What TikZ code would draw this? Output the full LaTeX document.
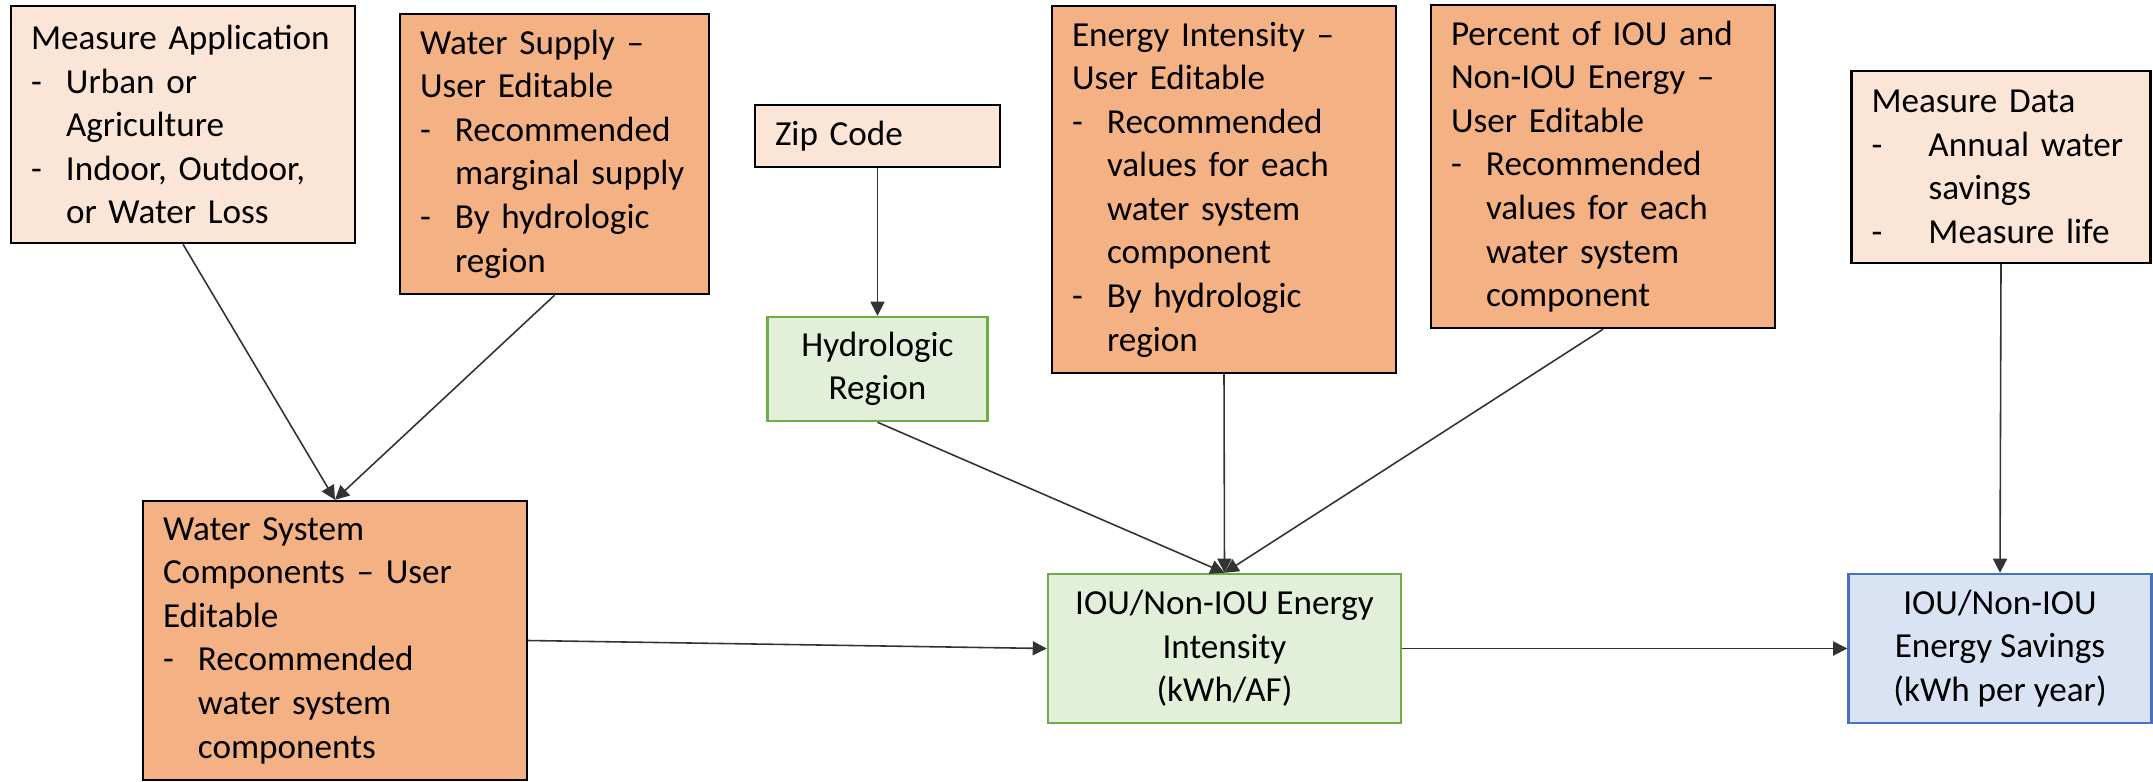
\documentclass[tikz,border=0pt]{standalone}
\usepackage{fontspec}
\setmainfont{Carlito}
\usetikzlibrary{arrows.meta}

\definecolor{peach}{HTML}{FBE5D6}
\definecolor{orng}{HTML}{F4B183}
\definecolor{grnfill}{HTML}{E2F0D9}
\definecolor{grnline}{HTML}{70AD47}
\definecolor{blufill}{HTML}{DAE3F3}
\definecolor{bluline}{HTML}{4472C4}

\newcommand{\dsh}[1][0.35cm]{\makebox[#1][l]{-}}
\newcommand{\ind}[1][0.35cm]{\hspace*{#1}}

\begin{document}
\begin{tikzpicture}[>={Triangle[length=4pt,width=4pt]},
    box/.style={rectangle, draw, line width=0.7pt, inner xsep=0.2cm, inner ysep=0pt,
      font=\fontsize{10}{12.4}\selectfont},
    txt/.style 2 args={box, align=left, text width=#1cm, minimum height=#2cm},
    inbox/.style={fill=peach},
    editbox/.style={fill=orng},
    calcbox/.style={box, align=center, fill=grnfill, draw=grnline},
    outbox/.style={box, align=center, fill=blufill, draw=bluline},
    link/.style={->, draw=black!80, line width=0.45pt}]

  \useasboundingbox (0,0) rectangle (21.53,-7.81);

  % inputs along the top
  \node[txt={3.04}{2.37}, inbox] (MA) at (1.83,-1.245)
    {Measure Application\\ \dsh Urban or\\ \ind Agriculture\\ \dsh Indoor, Outdoor,\\ \ind or Water Loss};
  \node[txt={2.69}{2.80}, editbox] (WS) at (5.545,-1.54)
    {Water Supply --\\ User Editable\\ \dsh Recommended\\ \ind marginal supply\\ \dsh By hydrologic\\ \ind region};
  \node[txt={2.05}{0.62}, inbox] (ZC) at (8.775,-1.36) {Zip Code};
  \node[txt={3.04}{3.67}, editbox] (EN) at (12.24,-1.895)
    {Energy Intensity --\\ User Editable\\ \dsh Recommended\\ \ind values for each\\ \ind water system\\ \ind component\\ \dsh By hydrologic\\ \ind region};
  \node[txt={3.04}{3.23}, editbox] (PC) at (16.03,-1.665)
    {Percent of IOU and\\ Non-IOU Energy --\\ User Editable\\ \dsh Recommended\\ \ind values for each\\ \ind water system\\ \ind component};
  \node[txt={2.59}{1.92}, inbox] (MD) at (20.01,-1.67)
    {Measure Data\\ \dsh[0.57cm]Annual water\\ \ind[0.57cm]savings\\ \dsh[0.57cm]Measure life};

  % middle and bottom row
  \node[calcbox, minimum width=2.2cm, minimum height=1.04cm] (HR) at (8.775,-3.69) {Hydrologic\\ Region};
  \node[txt={3.44}{2.79}, editbox] (WC) at (3.35,-6.405)
    {Water System\\ Components -- User\\ Editable\\ \dsh Recommended\\ \ind water system\\ \ind components};
  \node[calcbox, minimum width=3.53cm, minimum height=1.49cm] (EI) at (12.245,-6.485)
    {IOU/Non-IOU Energy\\ Intensity\\ (kWh/AF)};
  \node[outbox, minimum width=3.03cm, minimum height=1.49cm] (ES) at (20.0,-6.485)
    {IOU/Non-IOU\\ Energy Savings\\ (kWh per year)};

  \draw[link] (MA.south) -- (WC.north);
  \draw[link] (WS.south) -- (WC.north);
  \draw[link] (ZC) -- (HR);
  \draw[link] (HR.south) -- (EI.north);
  \draw[link] (EN.south) -- (EI.north);
  \draw[link] (PC.south) -- (EI.north);
  \draw[link] (MD.south) -- (ES.north);
  \draw[link] (WC.east) -- (EI.west);
  \draw[link] (EI) -- (ES);
\end{tikzpicture}
\end{document}
